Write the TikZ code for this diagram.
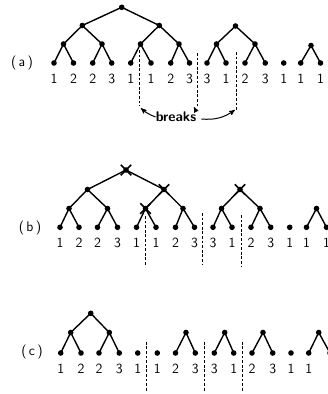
\documentclass[tikz,border=0pt]{standalone}
\usepackage{amsmath}
\usepackage{tikz}
\usetikzlibrary{arrows,shapes.misc}

\tikzset{
  edge/.style={line width=1.4pt},
  cut/.style={dash pattern=on 2.8pt off 1.8pt, line width=1pt},
  lbl/.style={font=\fontsize{14}{16}\selectfont\sffamily, inner sep=0pt},
  hit/.style={cross out, draw, line width=1.5pt, minimum size=9pt, inner sep=0pt},
  arr/.style={->, >=stealth', line width=1pt},
}

\begin{document}
\begin{tikzpicture}[x=1pt,y=-1pt]

\useasboundingbox (0,0) rectangle (327,394);

% (a) the whole sentence as one tree
\foreach \x/\t [count=\n] in {54/1,73.5/2,92.7/2,111.7/3,130.7/1,151/1,170.7/2,189.5/3,
    207/3,226/1,245/2,265.3/3,283.7/1,300.7/1,320.5/1}
    \coordinate (a\n) at (\x,63);

\coordinate (a16) at (63.5,44);
\coordinate (a17) at (102,44);
\coordinate (a18) at (140.5,44);
\coordinate (a19) at (179,44);
\coordinate (a20) at (216.5,44);
\coordinate (a21) at (255,44);
\coordinate (a22) at (311,45.5);
\coordinate (a23) at (82.3,25.5);
\coordinate (a24) at (159.3,25.5);
\coordinate (a25) at (235.5,26);
\coordinate (a26) at (121.7,7.3);

\foreach \p/\l/\r in {a16/a1/a2,a17/a3/a4,a18/a5/a6,a19/a7/a8,a20/a9/a10,a21/a11/a12,
    a22/a14/a15,a23/a16/a17,a24/a18/a19,a25/a20/a21,a26/a23/a24}
    \draw[edge] (\l) -- (\p) -- (\r);

\foreach \t [count=\n] in {1,2,2,3,1,1,2,3,3,1,2,3,1,1,1}
    \fill (a\n) circle (2.8pt) node (ta\n) [lbl,below=11pt] {\t};

\foreach \i in {16,...,26}
    \fill (a\i) circle (2.8pt);

\node (pa) [lbl] at (22,63) {(\,a\,)};

\coordinate (ad1) at (139,50);
\coordinate (ad2) at (197.3,53);
\coordinate (ad3) at (236.3,52);
\coordinate (ae1) at (139,106);
\coordinate (ae2) at (197.3,106);
\coordinate (ae3) at (236.3,110);
\foreach \i in {1,2,3}
    \draw[cut] (ad\i) -- (ae\i);

\node (breaks) [lbl,font=\fontsize{14}{16}\selectfont\sffamily\bfseries] at (176,117) {breaks};
\coordinate (ar1) at (141,108.3);
\coordinate (ar2) at (194,107);
\coordinate (ar3) at (234.8,110);
\draw[arr] (breaks.west) to[bend left=10] (ar1);
\draw[arr] (breaks.north east) -- (ar2);
\draw[arr] ([xshift=5pt,yshift=-2pt]breaks.east) to[bend right=20] (ar3);

% (b) nodes over a break are struck out
\foreach \x [count=\n] in {60,79,97.5,117.5,136.5,156,175.5,194.5,
    213,232,251,270.7,289.7,306.5,326.5}
    \coordinate (b\n) at (\x,227.3);

\coordinate (b16) at (69,208.5);
\coordinate (b17) at (107.5,208.5);
\coordinate (b18) at (145.5,208.5);
\coordinate (b19) at (183,208.5);
\coordinate (b20) at (221.5,208.5);
\coordinate (b21) at (260,208.5);
\coordinate (b22) at (316.5,208.5);
\coordinate (b23) at (87.5,189.5);
\coordinate (b24) at (164,189.5);
\coordinate (b25) at (240,189.5);
\coordinate (b26) at (126,170);

\foreach \p/\l/\r in {b16/b1/b2,b17/b3/b4,b18/b5/b6,b19/b7/b8,b20/b9/b10,b21/b11/b12,
    b22/b14/b15,b23/b16/b17,b24/b18/b19,b25/b20/b21,b26/b23/b24}
    \draw[edge] (\l) -- (\p) -- (\r);

\foreach \t [count=\n] in {1,2,2,3,1,1,2,3,3,1,2,3,1,1,1}
    \fill (b\n) circle (2.8pt) node (tb\n) [lbl,below=11pt] {\t};

\foreach \i in {16,...,26}
    \fill (b\i) circle (2.8pt);

\foreach \i in {18,24,25,26}
    \node (xb\i) [hit] at (b\i) {};

\node (pb) [lbl] at (30,228) {(\,b\,)};

\coordinate (bd1) at (145,216);
\coordinate (bd2) at (202.7,213);
\coordinate (bd3) at (241.7,215);
\coordinate (be1) at (145,265);
\coordinate (be2) at (202.7,265);
\coordinate (be3) at (241.7,267);
\foreach \i in {1,2,3}
    \draw[cut] (bd\i) -- (be\i);

% (c) what is left after the breaks
\foreach \x [count=\n] in {60.7,81,99,119.3,137.7,157.3,175.5,195.3,
    214.3,233.7,252,272.7,291,308.7,330}
    \coordinate (c\n) at (\x,353);

\coordinate (c16) at (70.7,332.5);
\coordinate (c17) at (109.3,332.5);
\coordinate (c18) at (186,332.5);
\coordinate (c19) at (224.7,332.5);
\coordinate (c20) at (263,332.5);
\coordinate (c21) at (318.7,332.5);
\coordinate (c22) at (90.7,313.3);

\foreach \p/\l/\r in {c16/c1/c2,c17/c3/c4,c18/c7/c8,c19/c9/c10,c20/c11/c12,
    c21/c14/c15,c22/c16/c17}
    \draw[edge] (\l) -- (\p) -- (\r);

\foreach \t [count=\n] in {1,2,2,3,1,1,2,3,3,1,2,3,1,1}
    \fill (c\n) circle (2.8pt) node (tc\n) [lbl,below=11pt] {\t};

\foreach \i in {15,...,22}
    \fill (c\i) circle (2.8pt);

\node (pc) [lbl] at (32,352) {(\,c\,)};

\coordinate (cd1) at (146.7,341.7);
\coordinate (cd2) at (204.7,341.7);
\coordinate (cd3) at (242.7,341.7);
\coordinate (ce1) at (146.7,391);
\coordinate (ce2) at (204.7,391);
\coordinate (ce3) at (242.7,391);
\foreach \i in {1,2,3}
    \draw[cut] (cd\i) -- (ce\i);

\end{tikzpicture}
\end{document}
